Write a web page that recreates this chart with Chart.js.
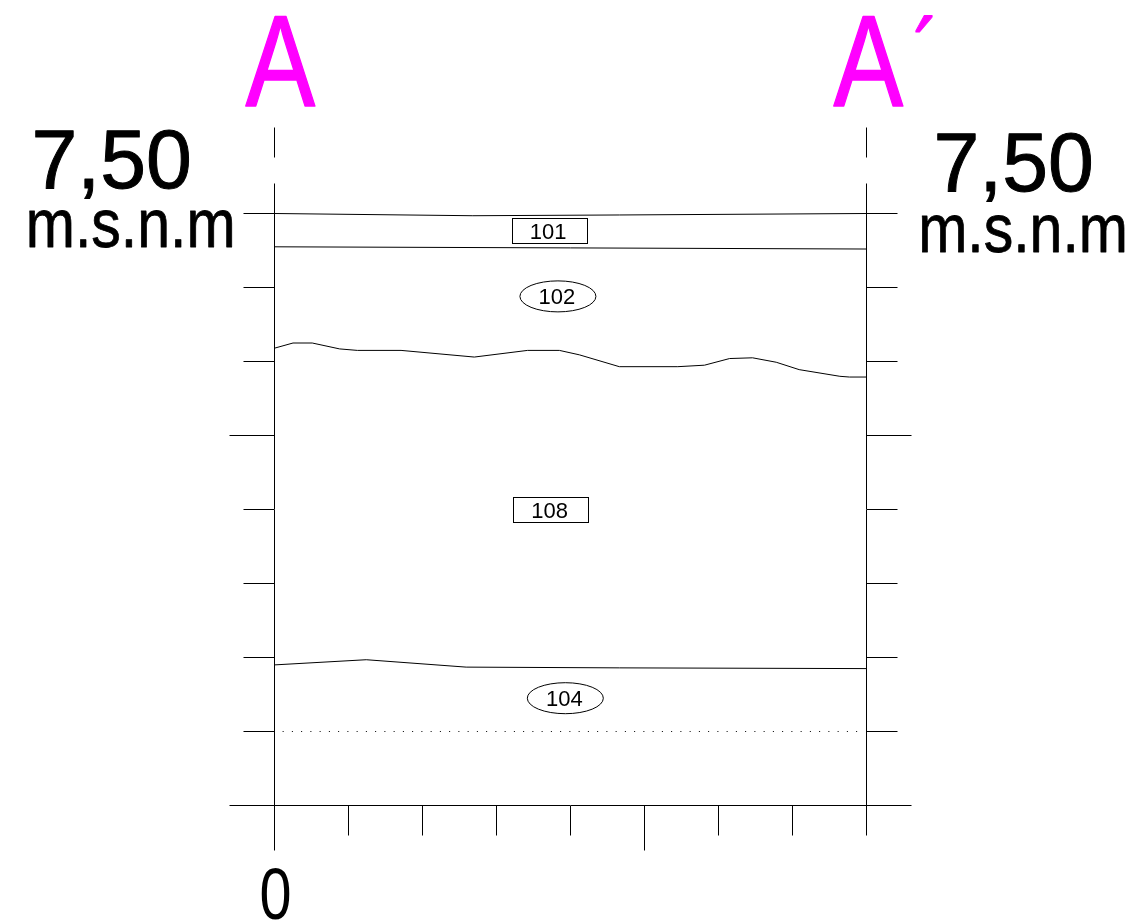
<!DOCTYPE html>
<html>
<head>
<meta charset="utf-8">
<title>Perfil A - A'</title>
<script src="https://cdn.jsdelivr.net/npm/chart.js@4"></script>
<style>
  html, body { margin: 0; padding: 0; background: #fff; }
  canvas { display: block; }
</style>
</head>
<body>
<canvas id="chart" width="1139" height="924"></canvas>
<script>
const surfaceX = [0, 2.68, 4.66, 8];
const surfaceY = [8.00, 7.97, 7.98, 8.00];
const layer101X = [0, 8];
const layer101Y = [7.55, 7.52];
const layer102X = [0, 0.25, 0.51, 0.88, 1.12, 1.71, 2.70, 3.42, 3.85, 4.12, 4.66, 5.45, 5.81, 6.15, 6.46, 6.78, 7.09, 7.64, 7.77, 8];
const layer102Y = [6.18, 6.25, 6.25, 6.17, 6.15, 6.15, 6.06, 6.15, 6.15, 6.09, 5.93, 5.93, 5.95, 6.04, 6.05, 5.99, 5.89, 5.80, 5.79, 5.79];
const layer108X = [0, 1.24, 2.59, 4.66, 8];
const layer108Y = [1.90, 1.97, 1.87, 1.86, 1.85];
const dottedX = [0.11, 7.9];
const dottedY = [1, 1];

const unitNames = ["101", "102", "108", "104"];
const unitShapes = ["box", "ellipse", "box", "ellipse"];
const unitX = [3.71, 3.83, 3.73, 3.93];
const unitY = [7.76, 6.88, 3.99, 1.45];

const longYTicks = [5, 0];
const longXTicks = [0, 5];

function toPoints(xs, ys) {
  return xs.map((x, i) => ({ x: x, y: ys[i] }));
}

function boundary(xs, ys, dash) {
  return {
    data: toPoints(xs, ys),
    borderColor: "#000",
    borderWidth: 1,
    borderDash: dash || [],
    pointRadius: 0,
    tension: 0,
    showLine: true,
    clip: false
  };
}

// the drawing's text is stretched and a bit heavier than the plain font
function drawText(ctx, text, x, y, size, squeeze, color, weight) {
  ctx.save();
  ctx.translate(x, y);
  ctx.scale(squeeze, 1);
  ctx.font = size + 'px "Liberation Sans"';
  ctx.fillStyle = color;
  ctx.strokeStyle = color;
  ctx.lineWidth = weight;
  ctx.lineJoin = "round";
  ctx.textAlign = "left";
  ctx.textBaseline = "alphabetic";
  ctx.fillText(text, 0, 0);
  if (weight > 0) ctx.strokeText(text, 0, 0);
  ctx.restore();
}

function line(ctx, x1, y1, x2, y2) {
  ctx.beginPath();
  ctx.moveTo(x1, y1);
  ctx.lineTo(x2, y2);
  ctx.stroke();
}

// the long ticks, the frame overshoot and the drawing's big labels
const sectionDecor = {
  id: "sectionDecor",
  afterDraw(chart) {
    const ctx = chart.ctx;
    const sx = chart.scales.x;
    const sy = chart.scales.y;
    const left = Math.floor(sx.getPixelForValue(0)) + 0.5;
    const right = Math.floor(sx.getPixelForValue(8)) + 0.5;
    const top = Math.floor(sy.getPixelForValue(8)) + 0.5;
    const bottom = Math.floor(sy.getPixelForValue(0)) + 0.5;

    ctx.save();
    ctx.strokeStyle = "#000";
    ctx.lineWidth = 1;

    longYTicks.forEach(v => {
      const p = Math.floor(sy.getPixelForValue(v)) + 0.5;
      line(ctx, left - 45, p, left, p);
      line(ctx, right, p, right + 45, p);
    });
    longXTicks.forEach(v => {
      const p = Math.floor(sx.getPixelForValue(v)) + 0.5;
      line(ctx, p, bottom, p, bottom + 45);
    });

    // frame runs on above the surface, then a short cut section line
    [left, right].forEach(p => {
      line(ctx, p, top - 30, p, top);
      line(ctx, p, top - 86, p, top - 56);
    });

    // stratigraphic unit tags
    ctx.font = '22px "Liberation Sans"';
    ctx.fillStyle = "#000";
    ctx.textAlign = "center";
    ctx.textBaseline = "middle";
    unitNames.forEach((name, i) => {
      const cx = sx.getPixelForValue(unitX[i]);
      const cy = sy.getPixelForValue(unitY[i]);
      if (unitShapes[i] === "box") {
        ctx.strokeRect(Math.round(cx - 37.5) + 0.5, Math.round(cy - 13) + 0.5, 75, 25);
      } else {
        ctx.beginPath();
        ctx.ellipse(cx, cy, 38, 15.5, 0, 0, Math.PI * 2);
        ctx.stroke();
      }
      ctx.fillText(name, cx - 1, cy + 2);
    });
    ctx.restore();

    drawText(ctx, "A", 245.5, 106.2, 129, 0.81, "#ff00ff", 1.5);
    drawText(ctx, "A", 833.5, 106.2, 129, 0.81, "#ff00ff", 1.5);
    drawText(ctx, "\u00b4", 913, 95.5, 110, 0.72, "#ff00ff", 1);
    drawText(ctx, "7,50", 31.5, 187.5, 84, 0.98, "#000", 1);
    drawText(ctx, "7,50", 933.5, 190.8, 84, 0.98, "#000", 1);
    drawText(ctx, "m.s.n.m", 25.8, 246.8, 69, 0.855, "#000", 0.8);
    drawText(ctx, "m.s.n.m", 918.2, 252, 69, 0.855, "#000", 0.8);
    drawText(ctx, "0", 259.5, 919, 72, 0.8, "#000", 0);
  }
};

function tickAxis(position, tickLength) {
  return {
    type: "linear",
    position: position,
    min: 0,
    max: 8,
    ticks: { display: false, stepSize: 1 },
    border: { display: true, color: "#000", width: 1 },
    grid: { drawOnChartArea: false, drawTicks: true, tickLength: tickLength, color: "#000", lineWidth: 1 }
  };
}

new Chart(document.getElementById("chart"), {
  type: "scatter",
  data: {
    datasets: [
      boundary(surfaceX, surfaceY),
      boundary(layer101X, layer101Y),
      boundary(layer102X, layer102Y),
      boundary(layer108X, layer108Y),
      boundary(dottedX, dottedY, [1, 8.25])
    ]
  },
  options: {
    responsive: false,
    animation: false,
    layout: { padding: { left: 243.5, right: 241.5, top: 213.5, bottom: 88.5 } },
    plugins: { legend: { display: false }, tooltip: { enabled: false }, title: { display: false } },
    scales: {
      x: tickAxis("bottom", 30),
      y: tickAxis("left", 31),
      y2: tickAxis("right", 31)
    }
  },
  plugins: [sectionDecor]
});
</script>
</body>
</html>
